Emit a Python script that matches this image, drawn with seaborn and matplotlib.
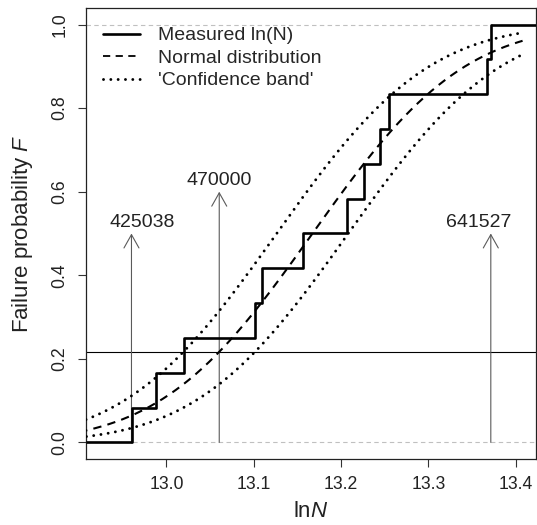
import math
import numpy as np
import pandas as pd
import matplotlib
matplotlib.use("Agg")
import matplotlib.pyplot as plt
from matplotlib.lines import Line2D
import seaborn as sns

# ---- data ----
ln_cycles = [12.960, 12.9885, 13.020, 13.102, 13.109, 13.157,
             13.207, 13.226, 13.2445, 13.255, 13.367, 13.3715]
marked_cycles = [425038, 470000, 641527]
marked_arrow_top = [0.5, 0.6, 0.5]
band_shift = 0.041          # horizontal shift of the 'confidence band' curves
x_ticks = [13.0, 13.1, 13.2, 13.3, 13.4]
y_ticks = [0.0, 0.2, 0.4, 0.6, 0.8, 1.0]
legend_labels = ["Measured ln(N)", "Normal distribution", "'Confidence band'"]

# ---- style ----
sns.set_theme(style="white")
plt.rcParams["font.family"] = ["Liberation Sans", "DejaVu Sans"]
plt.rcParams["mathtext.fontset"] = "custom"
plt.rcParams["mathtext.rm"] = "Liberation Sans"
plt.rcParams["mathtext.it"] = "Liberation Sans:italic"

fig = plt.figure(figsize=(5.37, 5.25), dpi=100)
ax = fig.add_axes([0.1596, 0.1263, 0.8384, 0.8579])
xlim = (12.9075, 13.4233)
ylim = (-0.039, 1.039)

data = np.array(ln_cycles)
mu = data.mean()
sd = data.std(ddof=1)
erf = np.vectorize(math.erf)


def ncdf(x, m):
    return 0.5 * (1 + erf((x - m) / (sd * math.sqrt(2))))


# grey dashed reference lines at 0 and 1
for yv in (0.0, 1.0):
    ax.axhline(yv, color="#c0c0c0", lw=0.8, ls=(0, (4, 3)), zorder=1)

# fitted normal curve and band
xs = np.linspace(12.9, 13.408, 400)
curves = pd.DataFrame({
    "x": np.r_[xs, xs, xs],
    "F": np.r_[ncdf(xs, mu), ncdf(xs, mu - band_shift), ncdf(xs, mu + band_shift)],
    "curve": ["normal"] * len(xs) + ["upper"] * len(xs) + ["lower"] * len(xs),
})
sns.lineplot(data=curves[curves.curve == "normal"], x="x", y="F", ax=ax,
             color="black", lw=1.5, ls=(0, (4, 3)), zorder=3)
for c in ("upper", "lower"):
    sns.lineplot(data=curves[curves.curve == c], x="x", y="F", ax=ax,
                 color="black", lw=2.1, ls=(0, (0.01, 2.5)),
                 dash_capstyle="round", zorder=3)

# empirical distribution function
sns.ecdfplot(x=data, ax=ax, color="black", lw=1.9, zorder=4)
ax.hlines(0, xlim[0], data.min(), color="black", lw=1.9, zorder=4)
ax.hlines(1, data.max(), xlim[1], color="black", lw=1.9, zorder=4)

# horizontal line at the fitted probability for 470000
ax.axhline(ncdf(math.log(marked_cycles[1]), mu), color="black", lw=0.8, zorder=2)

# arrows with labels
label_dx = [0.012, 0.0, -0.014]
for n, top, dx in zip(marked_cycles, marked_arrow_top, label_dx):
    lx = math.log(n)
    ax.annotate("", xy=(lx, top), xytext=(lx, 0.0),
                arrowprops=dict(arrowstyle="->,head_length=0.8,head_width=0.45",
                                color="#5a5a5a", lw=0.8, shrinkA=0, shrinkB=0),
                zorder=2)
    ax.text(lx + dx, top + 0.026, str(n), ha="center", va="center",
            fontsize=14, color="#222222")

ax.set_xlim(*xlim)
ax.set_ylim(*ylim)
ax.set_xticks(x_ticks)
ax.set_xticklabels([f"{t:.1f}" for t in x_ticks])
ax.set_yticks(y_ticks)
ax.set_yticklabels([f"{t:.1f}" for t in y_ticks], rotation=90, va="center")
ax.tick_params(axis="both", direction="out", length=6, width=0.8,
               color="#333333", labelsize=12.7, labelcolor="#222222", pad=6.5,
               left=True, bottom=True)
for s in ax.spines.values():
    s.set_color("#222222")
    s.set_linewidth(0.9)

ax.set_xlabel("ln$\\mathit{N}$", fontsize=16, labelpad=6, color="#222222")
ax.set_ylabel("Failure probability $\\mathit{F}$", fontsize=16, labelpad=12,
              color="#222222")

handles = [
    Line2D([], [], color="black", lw=1.9),
    Line2D([], [], color="black", lw=1.3, ls=(0, (4, 3))),
    Line2D([], [], color="black", lw=2.1, ls=(0, (0.01, 2.5)), dash_capstyle="round"),
]
ax.legend(handles, legend_labels, loc="upper left", bbox_to_anchor=(0.0378, 0.959),
          frameon=False, fontsize=14, handlelength=1.9, handletextpad=0.96,
          labelspacing=0.25, borderaxespad=0, borderpad=0)

fig.savefig("out.png", dpi=100)
